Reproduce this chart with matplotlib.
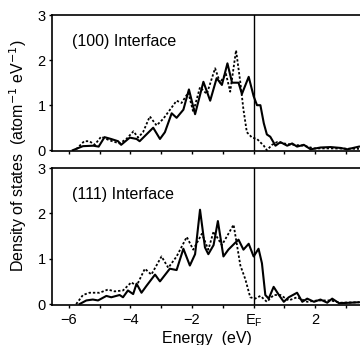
import matplotlib.pyplot as plt

plt.rcParams['font.family'] = ['Liberation Sans', 'DejaVu Sans']

# (100) interface, solid curve
e100_solid = [-5.87, -5.54, -5.2, -5.03, -4.84, -4.63, -4.4, -4.3, -4.02, -3.8, -3.7,
              -3.26, -3.04, -2.88, -2.66, -2.5, -2.28, -2.1, -1.9, -1.63, -1.41, -1.2,
              -1.03, -0.85, -0.7, -0.49, -0.38, -0.16, 0.0, 0.11, 0.22, 0.33, 0.43, 0.54,
              0.71, 0.87, 1.09, 1.25, 1.41, 1.63, 1.85, 2.17, 2.5, 2.83, 3.04, 3.42]
d100_solid = [0.0, 0.09, 0.1, 0.08, 0.29, 0.25, 0.2, 0.12, 0.28, 0.25, 0.2,
              0.5, 0.25, 0.4, 0.82, 0.72, 0.9, 1.35, 0.8, 1.52, 1.1, 1.6,
              1.45, 1.93, 1.5, 1.5, 1.25, 1.63, 1.2, 1.0, 1.0, 0.6, 0.35, 0.3,
              0.1, 0.18, 0.1, 0.15, 0.08, 0.12, 0.02, 0.06, 0.07, 0.05, 0.02, 0.08]

# (100) interface, dotted curve
e100_dot = [-5.76, -5.5, -5.33, -5.16, -4.95, -4.68, -4.35, -4.13, -3.9, -3.75, -3.59,
            -3.37, -3.15, -2.93, -2.66, -2.5, -2.34, -2.12, -1.96, -1.74, -1.52, -1.25,
            -1.09, -0.9, -0.76, -0.57, -0.43, -0.33, -0.22, -0.05, 0.11, 0.33, 0.43,
            0.6, 0.76, 0.98, 1.3, 1.63, 1.96, 2.5, 3.42]
d100_dot = [0.02, 0.2, 0.2, 0.12, 0.3, 0.22, 0.15, 0.25, 0.42, 0.28, 0.4,
            0.75, 0.55, 0.7, 0.95, 1.1, 1.05, 1.28, 0.85, 1.4, 1.25, 1.82,
            1.5, 1.7, 1.3, 2.22, 1.5, 0.9, 0.4, 0.28, 0.25, 0.1, 0.0,
            0.12, 0.18, 0.15, 0.12, 0.1, 0.04, 0.04, 0.03]

# (111) interface, solid curve
e111_solid = [-5.65, -5.43, -5.22, -5.05, -4.78, -4.62, -4.35, -4.24, -4.08, -3.91, -3.8,
              -3.64, -3.48, -3.2, -3.04, -2.72, -2.5, -2.28, -2.07, -1.9, -1.74, -1.58,
              -1.47, -1.3, -1.16, -0.98, -0.82, -0.6, -0.49, -0.33, -0.16, 0.0, 0.16,
              0.27, 0.38, 0.49, 0.65, 0.82, 0.98, 1.14, 1.41, 1.58, 1.74, 1.96, 2.17,
              2.39, 2.55, 2.77, 3.15, 3.42]
d111_solid = [0.0, 0.08, 0.1, 0.08, 0.18, 0.15, 0.2, 0.15, 0.3, 0.22, 0.45,
              0.25, 0.4, 0.65, 0.5, 0.78, 0.75, 1.22, 0.85, 1.1, 2.08, 1.25,
              1.1, 1.3, 1.83, 1.05, 1.2, 1.35, 1.42, 1.2, 1.33, 1.05, 1.22,
              0.9, 0.2, 0.12, 0.38, 0.2, 0.05, 0.15, 0.25, 0.05, 0.12, 0.05, 0.1,
              0.03, 0.12, 0.02, 0.03, 0.04]

# (111) interface, dotted curve
e111_dot = [-5.76, -5.54, -5.33, -5.0, -4.73, -4.51, -4.24, -3.97, -3.8, -3.53, -3.32,
            -2.99, -2.77, -2.5, -2.17, -1.96, -1.68, -1.47, -1.3, -1.03, -0.65, -0.43,
            -0.27, -0.11, 0.05, 0.22, 0.43, 0.65, 0.87, 1.14, 1.41, 1.74, 2.07, 2.5,
            2.83, 3.42]
d111_dot = [0.0, 0.2, 0.25, 0.25, 0.32, 0.28, 0.3, 0.48, 0.4, 0.78, 0.65,
            1.05, 0.8, 1.05, 1.48, 1.2, 1.55, 1.2, 1.6, 1.3, 1.75, 0.85,
            0.55, 0.15, 0.12, 0.18, 0.05, 0.2, 0.2, 0.08, 0.15, 0.05, 0.08, 0.08,
            0.03, 0.04]

panels = [
    ('(100) Interface', e100_solid, d100_solid, e100_dot, d100_dot),
    ('(111) Interface', e111_solid, d111_solid, e111_dot, d111_dot),
]

fig = plt.figure(figsize=(3.6, 3.45), dpi=100)
boxes = [[0.144, 0.562, 0.86, 0.394], [0.144, 0.116, 0.86, 0.397]]

for i, (title, es, ds, ed, dd) in enumerate(panels):
    ax = fig.add_axes(boxes[i])
    ax.plot(es, ds, color='black', lw=1.5, solid_joinstyle='round')
    ax.plot(ed, dd, color='black', lw=1.3, linestyle=(0, (1.3, 1.1)))
    ax.axvline(0, color='black', lw=1.0)
    ax.set_xlim(-6.55, 3.5)
    ax.set_ylim(-0.02, 3)
    ax.set_yticks([0, 1, 2, 3])
    ax.set_xticks([-6, -5, -4, -3, -2, -1, 0, 1, 2, 3])
    ax.spines['right'].set_visible(False)
    for s in ['left', 'top', 'bottom']:
        ax.spines[s].set_linewidth(1.2)
    ax.tick_params(direction='out', length=2.5, width=1, labelsize=10.5, pad=2)
    ax.text(-5.9, 2.42, title, fontsize=11.5, va='center', ha='left')
    if i == 0:
        ax.set_xticklabels([])
    else:
        ax.set_xticklabels(['\u22126', '', '\u22124', '', '\u22122', '', 'E$_\\mathregular{F}$', '', '2', ''])
        ax.tick_params(axis='x', pad=3)
        ax.set_xlabel('Energy  (eV)', fontsize=11.5, labelpad=1)

fig.text(0.05, 0.55, 'Density of states  (atom$^{-1}$ eV$^{-1}$)', rotation=90,
         ha='center', va='center', fontsize=11.5)

fig.savefig('out.png', dpi=100)
